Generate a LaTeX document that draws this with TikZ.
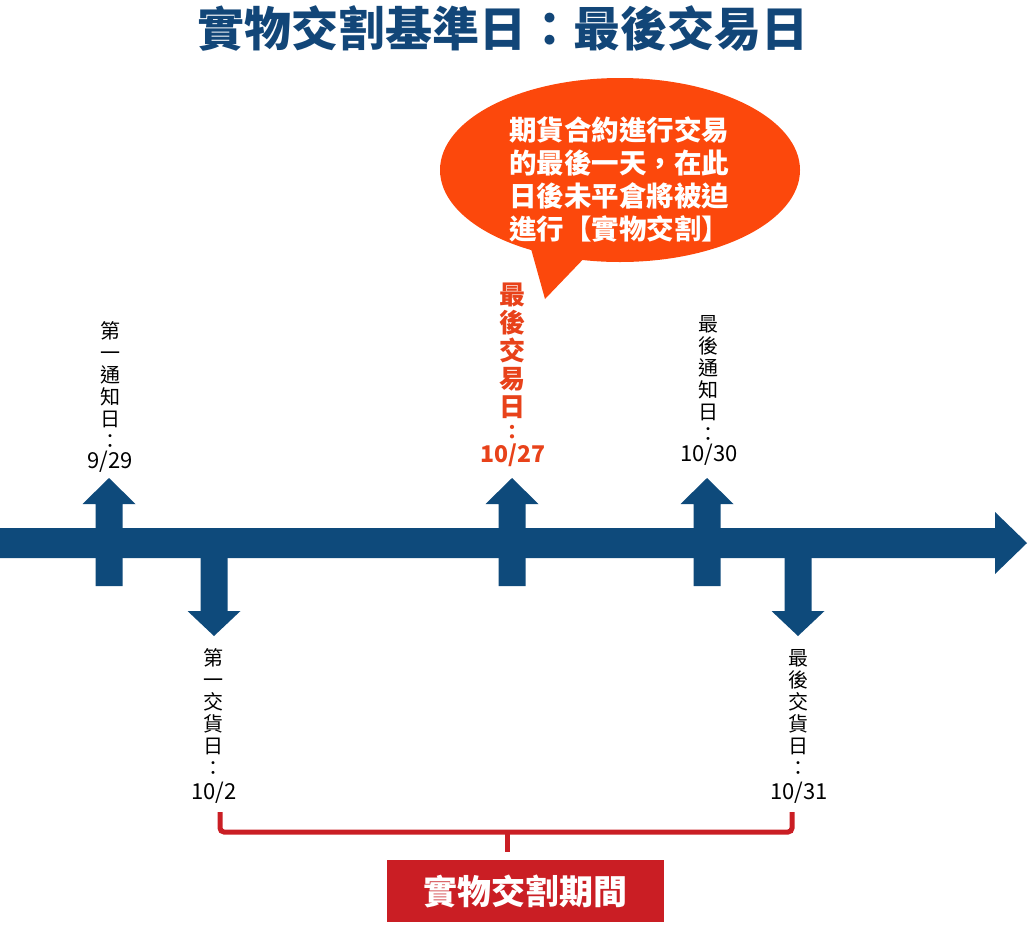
\documentclass[tikz,border=0pt]{standalone}
\usepackage{fontspec}
\newfontfamily\cjk{Noto Sans CJK TC}
\definecolor{barblue}{RGB}{14,74,123}
\definecolor{titleblue}{RGB}{18,70,120}
\definecolor{bubbleorange}{RGB}{252,72,12}
\definecolor{labelred}{RGB}{232,66,26}
\definecolor{boxred}{RGB}{202,30,36}
\tikzset{
  arrowshape/.style={fill=barblue, draw=none},
  vlabel/.style={align=center, inner sep=0pt, font=\cjk\fontsize{20}{22}\selectfont, text=black},
  vlabelred/.style={align=center, inner sep=0pt, font=\cjk\bfseries\fontsize{26}{28}\selectfont, text=labelred},
  colonred/.style={inner sep=0pt, font=\cjk\bfseries\fontsize{20}{22}\selectfont, text=labelred},
  datelabel/.style={inner sep=0pt, font=\cjk\fontsize{22}{24}\selectfont, text=black},
  datered/.style={inner sep=0pt, font=\cjk\bfseries\fontsize{23}{24}\selectfont, text=labelred},
  bracketline/.style={draw=boxred, line width=5pt, rounded corners=4pt},
}
\newcommand\tlUp[1]{%
  \fill[arrowshape] (#1-13.5,586) -- (#1-13.5,504) -- (#1-26.5,504) -- (#1,478)
    -- (#1+26.5,504) -- (#1+13.5,504) -- (#1+13.5,586) -- cycle;}
\newcommand\tlDown[1]{%
  \fill[arrowshape] (#1-13.5,545) -- (#1-13.5,611) -- (#1-26.5,611) -- (#1,636)
    -- (#1+26.5,611) -- (#1+13.5,611) -- (#1+13.5,545) -- cycle;}
\begin{document}
\begin{tikzpicture}[x=1pt,y=-1pt]
\useasboundingbox (0,0) rectangle (1032,927);

% title
\node[font=\cjk\bfseries\fontsize{47}{52}\selectfont, text=titleblue, inner sep=0pt] (title) at (503,28) {實物交割基準日：最後交易日};

% speech bubble
\fill[bubbleorange] (620,170) ellipse [x radius=180, y radius=92];
\fill[bubbleorange] (528,238) -- (545,299) -- (592,250) -- cycle;
\node[align=center, inner sep=0pt, text=white, font=\cjk\bfseries\fontsize{27.5}{33}\selectfont] (bubbletext) at (619,179)
  {期貨合約進行交易\\的最後一天，在此\\日後未平倉將被迫\\進行【實物交割】};

% timeline
\tlUp{109}
\tlDown{214}
\tlUp{512}
\tlUp{707}
\tlDown{798}
\fill[arrowshape] (0,528) -- (995,528) -- (995,512) -- (1027,543) -- (995,574) -- (995,558) -- (0,558) -- cycle;

% labels above
\node[vlabel] (l1) at (110,385) {第\\一\\通\\知\\日\\：};
\node[datelabel] (d1) at (110,462) {9/29};
\node[vlabelred] (l3) at (512,351) {最\\後\\交\\易\\日};
\node[colonred] (c3) at (512,432) {：};
\node[datered] (d3) at (513,455) {10/27};
\node[vlabel] (l4) at (708,378) {最\\後\\通\\知\\日\\：};
\node[datelabel] (d4) at (709,455) {10/30};

% labels below
\node[vlabel] (l2) at (213,712) {第\\一\\交\\貨\\日\\：};
\node[datelabel] (d2) at (214,793) {10/2};
\node[vlabel] (l5) at (798,712) {最\\後\\交\\貨\\日\\：};
\node[datelabel] (d5) at (799,793) {10/31};

% bracket and box
\coordinate (bl) at (220,812);
\coordinate (br) at (792,812);
\coordinate (bm) at (507,832);
\node[fill=boxred, minimum width=277pt, minimum height=62pt, inner sep=0pt, text=white,
  font=\cjk\bfseries\fontsize{34}{36}\selectfont] (period) at (525.5,891) {實物交割期間};
\draw[bracketline] (bl) -- (220,832) -- (792,832) -- (br);
\draw[draw=boxred, line width=5pt] (bm) -- (507,852);
\end{tikzpicture}
\end{document}
